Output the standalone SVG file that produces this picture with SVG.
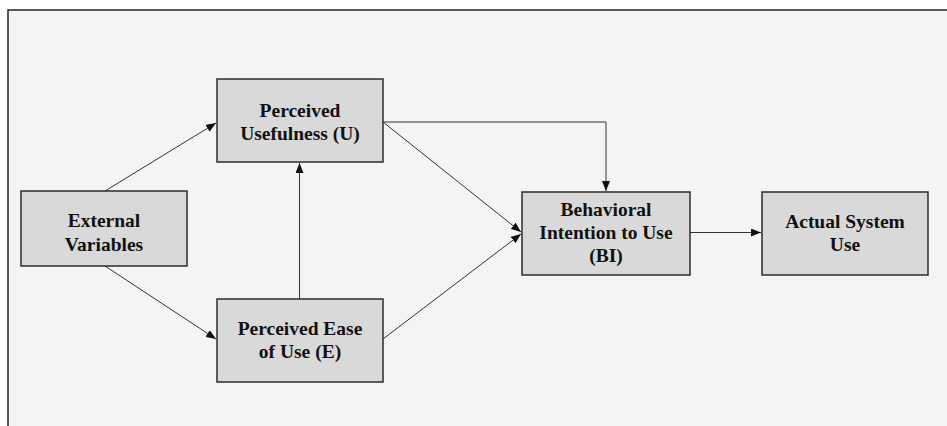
<svg xmlns="http://www.w3.org/2000/svg" width="947" height="426" viewBox="0 0 947 426">
<style>
.box{fill:#d9d9d9;stroke:#2b2b2b;stroke-width:1.5}
.t{font-family:"Liberation Serif","Times New Roman",serif;font-weight:bold;font-size:19.5px;fill:#111;text-anchor:middle}
.c{fill:none;stroke:#333;stroke-width:1}
</style>
<defs>
<marker id="ah" viewBox="0 0 10 8" refX="10" refY="4" markerWidth="10" markerHeight="8" markerUnits="userSpaceOnUse" orient="auto">
<path d="M0,0 L10,4 L0,8 Z" fill="#111"/>
</marker>
</defs>
<rect x="0" y="0" width="947" height="426" fill="#ffffff"/>
<rect x="8" y="10" width="945" height="420" fill="#f4f4f4" stroke="#222" stroke-width="1.5"/>
<g id="connectors">
<line class="c" x1="105" y1="191" x2="216" y2="123" marker-end="url(#ah)"/>
<line class="c" x1="105" y1="266" x2="216" y2="339" marker-end="url(#ah)"/>
<line class="c" x1="299.5" y1="299" x2="299.5" y2="163" marker-end="url(#ah)"/>
<polyline class="c" points="383,122 606,122 606,191" marker-end="url(#ah)"/>
<line class="c" x1="383" y1="122" x2="521" y2="232" marker-end="url(#ah)"/>
<line class="c" x1="383" y1="339" x2="521" y2="234" marker-end="url(#ah)"/>
<line class="c" x1="690" y1="232.5" x2="761" y2="232.5" marker-end="url(#ah)"/>
</g>
<g id="pu">
<rect class="box" x="217" y="79" width="166" height="83"/>
<text class="t" x="300" y="117">Perceived</text>
<text class="t" x="300" y="140">Usefulness (U)</text>
</g>
<g id="ev">
<rect class="box" x="21" y="191" width="166" height="75"/>
<text class="t" x="104" y="227">External</text>
<text class="t" x="104" y="250.5">Variables</text>
</g>
<g id="peu">
<rect class="box" x="217" y="299" width="166" height="83"/>
<text class="t" x="300" y="335">Perceived Ease</text>
<text class="t" x="300" y="358">of Use (E)</text>
</g>
<g id="bi">
<rect class="box" x="522" y="192" width="168" height="83"/>
<text class="t" x="606" y="216">Behavioral</text>
<text class="t" x="606" y="239">Intention to Use</text>
<text class="t" x="606" y="262">(BI)</text>
</g>
<g id="asu">
<rect class="box" x="762" y="192" width="166" height="83"/>
<text class="t" x="845" y="228">Actual System</text>
<text class="t" x="845" y="250.5">Use</text>
</g>
</svg>
